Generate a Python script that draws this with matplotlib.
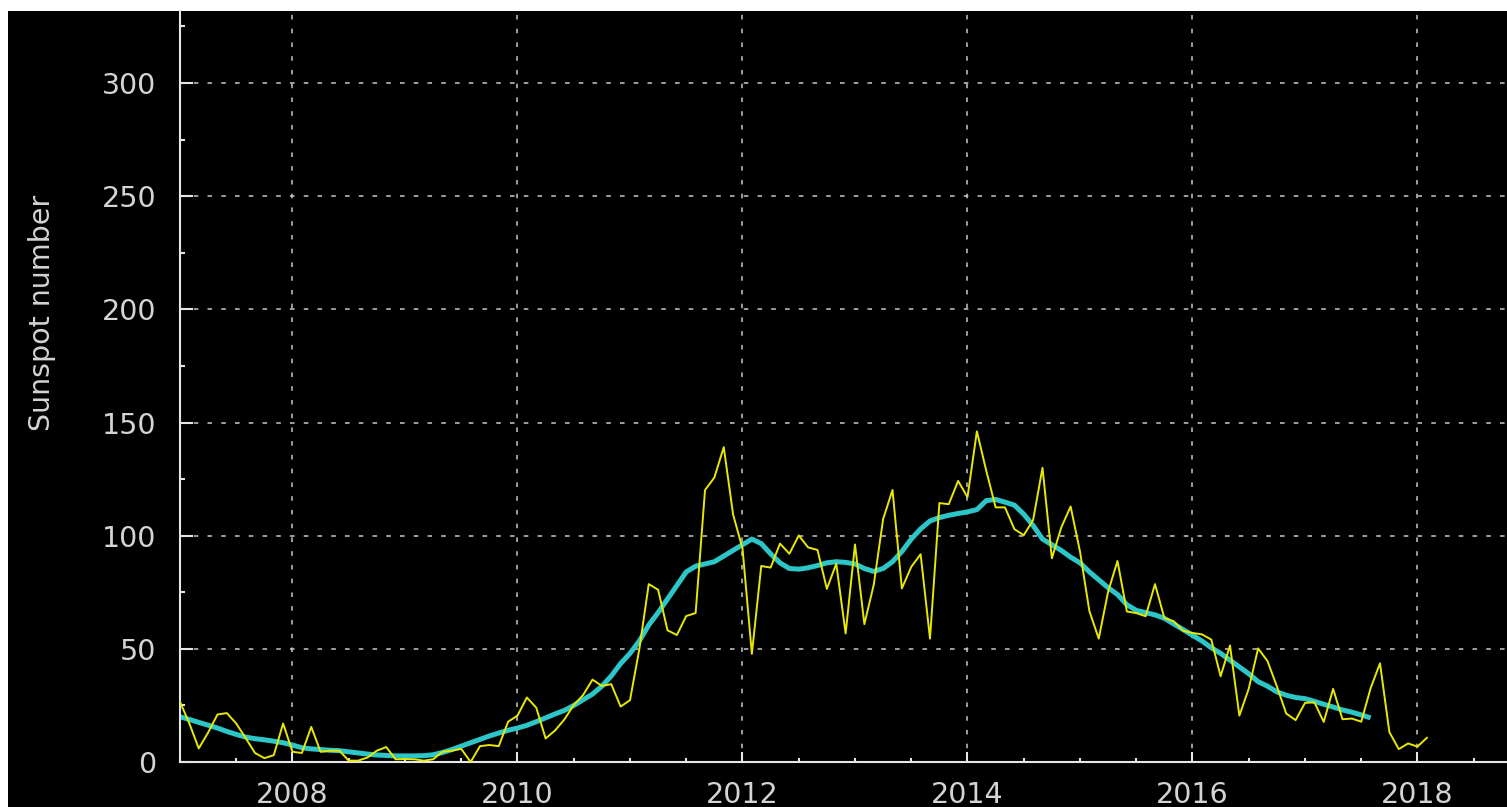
import numpy as np
import matplotlib
matplotlib.use("Agg")
import matplotlib.pyplot as plt
from matplotlib.patches import Rectangle
from matplotlib.ticker import MultipleLocator

# ---- data (monthly mean sunspot number, Jan 2007 .. Feb 2018) ----
start_year = 2007
monthly_2007 = [26.6, 17.0, 6.0, 13.0, 21.0, 21.6, 17.0, 10.6, 4.0, 1.7, 3.0, 17.0]
monthly_2008 = [4.5, 4.0, 15.5, 4.5, 5.0, 5.0, 0.6, 0.6, 2.0, 5.0, 6.6, 1.2]
monthly_2009 = [1.3, 1.2, 0.6, 1.2, 4.5, 5.0, 5.8, 0.0, 7.0, 7.5, 7.0, 17.8]
monthly_2010 = [20.5, 28.5, 24.0, 10.4, 13.9, 18.8, 25.2, 29.6, 36.4, 33.6, 34.4, 24.5]
monthly_2011 = [27.3, 50.0, 78.6, 76.1, 58.2, 56.1, 64.5, 65.8, 120.1, 125.7, 139.1, 109.3]
monthly_2012 = [94.4, 47.8, 86.6, 85.9, 96.5, 92.0, 100.1, 94.8, 93.7, 76.5, 87.6, 56.8]
monthly_2013 = [96.1, 60.9, 78.3, 107.3, 120.2, 76.7, 86.2, 91.8, 54.5, 114.4, 113.9, 124.2]
monthly_2014 = [117.0, 146.1, 128.7, 112.5, 112.5, 102.9, 100.2, 106.9, 130.0, 90.0, 103.6, 112.9]
monthly_2015 = [93.0, 66.7, 54.5, 75.3, 88.8, 66.5, 65.8, 64.4, 78.6, 63.6, 62.2, 58.0]
monthly_2016 = [57.0, 56.4, 54.1, 37.9, 51.5, 20.5, 32.4, 50.2, 44.6, 33.4, 21.4, 18.5]
monthly_2017 = [26.1, 26.4, 17.7, 32.3, 18.9, 19.2, 17.8, 32.6, 43.6, 13.2, 5.7, 8.2]
monthly_2018 = [6.8, 10.7]

# ---- smoothed sunspot number, Jan 2007 .. Aug 2017 ----
smoothed_2007 = [20.0, 18.8, 17.5, 16.3, 15.0, 13.5, 12.2, 11.0, 10.3, 9.8, 9.2, 8.5]
smoothed_2008 = [7.5, 6.3, 5.8, 5.5, 5.2, 5.0, 4.5, 4.0, 3.5, 3.1, 2.9, 2.7]
smoothed_2009 = [2.7, 2.7, 2.8, 3.2, 4.2, 5.5, 7.0, 8.5, 10.0, 11.5, 12.8, 14.0]
smoothed_2010 = [15.0, 16.2, 17.8, 19.5, 21.2, 22.8, 25.0, 27.5, 30.0, 33.5, 38.0, 43.5]
smoothed_2011 = [48.0, 53.5, 60.5, 66.0, 72.0, 78.0, 84.0, 86.5, 87.5, 88.5, 91.0, 93.5]
smoothed_2012 = [96.0, 98.5, 96.5, 92.0, 88.0, 85.5, 85.2, 85.8, 86.8, 88.0, 88.5, 88.2]
smoothed_2013 = [87.5, 85.5, 84.2, 85.5, 88.5, 93.0, 98.5, 103.0, 106.5, 108.0, 109.0, 109.8]
smoothed_2014 = [110.5, 111.5, 115.5, 116.0, 114.8, 113.5, 109.5, 104.5, 98.5, 96.0, 93.5, 90.5]
smoothed_2015 = [88.0, 84.0, 80.5, 77.0, 74.0, 69.5, 67.0, 66.0, 65.0, 63.5, 61.0, 58.5]
smoothed_2016 = [56.0, 53.5, 50.5, 48.0, 45.0, 42.0, 39.0, 35.5, 33.5, 31.0, 29.5, 28.5]
smoothed_2017 = [28.0, 26.8, 25.5, 24.3, 23.0, 22.0, 20.8, 19.5]

x_ticks = [2008, 2010, 2012, 2014, 2016, 2018]
x_tick_labels = ["2008", "2010", "2012", "2014", "2016", "2018"]
y_ticks = [0, 50, 100, 150, 200, 250, 300]
y_tick_labels = ["0", "50", "100", "150", "200", "250", "300"]
y_label = "Sunspot number"

monthly = np.array(monthly_2007 + monthly_2008 + monthly_2009 + monthly_2010 +
                   monthly_2011 + monthly_2012 + monthly_2013 + monthly_2014 +
                   monthly_2015 + monthly_2016 + monthly_2017 + monthly_2018)
smoothed = np.array(smoothed_2007 + smoothed_2008 + smoothed_2009 + smoothed_2010 +
                    smoothed_2011 + smoothed_2012 + smoothed_2013 + smoothed_2014 +
                    smoothed_2015 + smoothed_2016 + smoothed_2017)
t_monthly = start_year + np.arange(len(monthly)) / 12.0
t_smoothed = start_year + np.arange(len(smoothed)) / 12.0

# ---- figure ----
W, H = 1507, 807
fig = plt.figure(figsize=(W / 100, H / 100), dpi=100, facecolor="white")
fig.patches.append(Rectangle((8 / W, 0), 1 - 8 / W, 1 - 11 / H, transform=fig.transFigure,
                             facecolor="black", edgecolor="none", zorder=-10))

ax_left, ax_bottom = 180 / W, (H - 762) / H
ax_top = (H - 11) / H
ax = fig.add_axes([ax_left, ax_bottom, 1 - ax_left, ax_top - ax_bottom])
ax.set_facecolor("black")

txt_color = "#d4d4d4"
fs = 20.5

ax.plot(t_smoothed, smoothed, color="#2cc6c8", lw=3.6, solid_capstyle="butt", zorder=2)
ax.plot(t_monthly, monthly, color="#e8e800", lw=1.4, zorder=3)

ax.set_xlim(2007.0, 2007.0 + (W - 180) / 112.5)
ax.set_ylim(0, 751 / 2.2633)

ax.set_xticks(x_ticks)
ax.set_xticklabels(x_tick_labels)
ax.set_yticks(y_ticks)
ax.set_yticklabels(y_tick_labels)
ax.xaxis.set_minor_locator(MultipleLocator(0.5))
ax.yaxis.set_minor_locator(MultipleLocator(25))

for s in ["top", "right"]:
    ax.spines[s].set_visible(False)
for s in ["left", "bottom"]:
    ax.spines[s].set_color("#e6e6e6")
    ax.spines[s].set_linewidth(1.5)

ax.tick_params(axis="x", which="major", direction="in", length=7, width=1.5,
               color="#e6e6e6", labelcolor=txt_color, labelsize=fs, pad=13.5)
ax.tick_params(axis="x", which="minor", direction="in", length=3, width=1.5, color="#e6e6e6")
ax.tick_params(axis="y", which="major", direction="in", length=9.5, width=1.5,
               color="#e6e6e6", labelcolor=txt_color, labelsize=fs, pad=17)
ax.tick_params(axis="y", which="minor", direction="in", length=3.6, width=1.5, color="#e6e6e6")

ax.grid(True, which="major", color="#c8c8c8", lw=1.1, linestyle=(0, (3, 6)))
ax.set_axisbelow(True)

ax.set_ylabel(y_label, color=txt_color, fontsize=fs)
ax.yaxis.set_label_coords((56 - 180) / (W - 180), (762 - 313) / 751)

fig.savefig("out.png", dpi=100, facecolor="white")
